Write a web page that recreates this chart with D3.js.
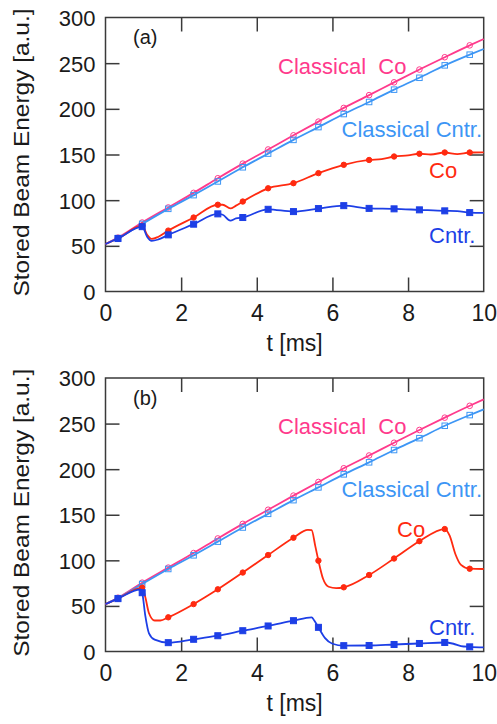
<!DOCTYPE html>
<html><head><meta charset="utf-8">
<script src="https://cdn.jsdelivr.net/npm/d3@7"></script>
<style>
body{margin:0;background:#fff}
text{font-family:"Liberation Sans",Arial,sans-serif;fill:#1a1a1a}
</style>
</head><body><svg id="c" width="497" height="724"></svg>
<script>
// ---------- data ----------
const xTicks = [0, 2, 4, 6, 8, 10];
const yTicks = [0, 50, 100, 150, 200, 250, 300];
const markerTimes = [0.33, 0.97, 1.66, 2.33, 2.97, 3.63, 4.3, 4.97, 5.63, 6.3, 6.97, 7.63, 8.3, 8.97, 9.63];

const classicalCo = [[0,52],[0.33,59],[0.97,75.5],[1.66,92],[2.33,108],[2.97,124],[3.63,140],[4.3,155.5],[4.97,171],[5.63,186],[6.3,201],[6.97,215],[7.63,229],[8.3,243],[8.97,256.5],[9.63,269.5],[10,276.5]];
const classicalCntr = [[0,52],[0.33,58.5],[0.97,74],[1.66,90.5],[2.33,105.5],[2.97,120.5],[3.63,136],[4.3,151],[4.97,166],[5.63,180],[6.3,194.3],[6.97,207.5],[7.63,221],[8.3,234],[8.97,247.6],[9.63,259.3],[10,265.5]];

const coA = [[0,52],[0.33,58],[0.97,72],[1.1,62],[1.22,57.6],[1.4,60],[1.66,66.7],[2.33,81],[2.97,95],[3.1,95],[3.3,91],[3.45,94],[3.63,98.5],[4.3,113],[4.97,118.6],[5.63,129.6],[6.3,138.7],[6.97,144],[7.3,145],[7.63,147.8],[8.0,149],[8.3,150.8],[8.6,150],[8.97,152.2],[9.3,150.5],[9.63,152.2],[10,152.4]];
const cntrA = [[0,52],[0.33,58],[0.97,71],[1.1,60],[1.22,55.4],[1.4,57],[1.66,62],[2.33,73.7],[2.97,85],[3.1,84],[3.3,77.6],[3.45,80],[3.63,81],[4.3,90],[4.97,87.5],[5.63,90.8],[6.3,94],[6.97,91],[7.63,90.5],[8.3,89.4],[8.97,88.3],[9.3,88],[9.63,86.4],[10,86]];

const coB = [[0,52],[0.33,58],[0.97,70],[1.05,60],[1.15,42],[1.3,34],[1.45,34],[1.66,37.5],[2.33,52],[2.97,68.2],[3.63,86.6],[4.3,105.8],[4.97,124.8],[5.35,133.5],[5.45,133],[5.55,115],[5.63,99.6],[5.75,80],[5.9,71],[6.1,69.5],[6.3,70.4],[6.97,83.9],[7.63,102],[8.3,121],[8.97,134.3],[9.1,127],[9.25,107],[9.4,95],[9.63,90.8],[10,90.5]];
const cntrB = [[0,52],[0.33,58],[0.92,68],[0.97,64.5],[1.05,40],[1.15,20],[1.3,13],[1.66,9.7],[2.33,13.4],[2.97,17.3],[3.63,22.8],[4.3,28],[4.97,33.8],[5.45,37.5],[5.52,34],[5.63,26.5],[5.8,15],[6.0,8.5],[6.3,6.4],[6.97,6.6],[7.63,7.7],[8.3,8.8],[8.97,9.9],[9.2,8.5],[9.4,6],[9.63,5.1],[10,4.5]];

const panelLabels = ["(a)", "(b)"];
const seriesLabels = ["Classical  Co", "Classical Cntr.", "Co", "Cntr."];
const xTitle = "t [ms]";
const yTitle = "Stored Beam Energy [a.u.]";

// ---------- styling / layout ----------
const colors = {cCo:"#ff3a8c", cCntr:"#3d96f5", co:"#ff2a10", cntr:"#1d3fe6"};
const svg = d3.select("#c");
const x = d3.scaleLinear().domain([0,10]).range([105.5,483.7]);

const panels = [
  {top:17.5, bottom:291.5, co:coA, cntr:cntrA, label:panelLabels[0],
   labelPos:[[278,74],[341.5,136.7],[429,178],[429,243.3]]},
  {top:378, bottom:651.5, co:coB, cntr:cntrB, label:panelLabels[1],
   labelPos:[[278,434],[341.5,496.7],[397,536.7],[429,635]]}
];

const isMarker = d => markerTimes.some(m => Math.abs(m - d[0]) < 1e-6);
const ff = "'Liberation Sans',Arial,sans-serif";

panels.forEach(p => {
  const y = d3.scaleLinear().domain([0,300]).range([p.bottom, p.top]);
  const g = svg.append("g");
  const line = d3.line().x(d=>x(d[0])).y(d=>y(d[1])).curve(d3.curveMonotoneX);

  // frame
  g.append("rect").attr("x",x(0)).attr("y",y(300)).attr("width",x(10)-x(0)).attr("height",y(0)-y(300))
    .attr("fill","none").attr("stroke","#3a3a3a").attr("stroke-width",1.5);

  // axes via d3 axis (inward ticks)
  const tl = 14;
  const axL = g.append("g").attr("transform",`translate(${x(0)},0)`)
    .call(d3.axisLeft(y).tickValues(yTicks).tickSize(-tl).tickFormat(d3.format("d")));
  const axB = g.append("g").attr("transform",`translate(0,${y(0)})`)
    .call(d3.axisBottom(x).tickValues(xTicks).tickSize(-tl).tickFormat(d3.format("d")));
  const axR = g.append("g").attr("transform",`translate(${x(10)},0)`)
    .call(d3.axisRight(y).tickValues(yTicks).tickSize(-tl).tickFormat(""));
  const axT = g.append("g").attr("transform",`translate(0,${y(300)})`)
    .call(d3.axisTop(x).tickValues(xTicks).tickSize(-tl).tickFormat(""));
  [axL,axB,axR,axT].forEach(a=>{
    a.select(".domain").remove();
    a.selectAll(".tick line").attr("stroke","#3a3a3a").attr("stroke-width",1.5);
  });
  axL.selectAll(".tick").filter(d=>d===0||d===300).select("line").remove();
  axR.selectAll(".tick").filter(d=>d===0||d===300).select("line").remove();
  axB.selectAll(".tick").filter(d=>d===0||d===10).select("line").remove();
  axT.selectAll(".tick").filter(d=>d===0||d===10).select("line").remove();
  axL.selectAll("text").attr("font-size",22).attr("x",-10).attr("dy","0.36em").attr("fill","#1a1a1a")
    .style("font-family",ff);
  axB.selectAll("text").attr("font-size",23).attr("y",13).attr("fill","#1a1a1a")
    .style("font-family",ff);

  // axis titles
  g.append("text").attr("x",(x(0)+x(10))/2).attr("y",p.bottom+59).attr("text-anchor","middle")
    .attr("font-size",23).text(xTitle);
  g.append("text").attr("transform",`translate(28.5,${(p.top+p.bottom)/2 - 2}) rotate(-90)`)
    .attr("text-anchor","middle").attr("font-size",22)
    .attr("textLength",288).attr("lengthAdjust","spacingAndGlyphs").text(yTitle);

  // panel label
  g.append("text").attr("x",133).attr("y",p.top+26.5).attr("font-size",20).text(p.label);

  // series
  const series = [
    {data:classicalCo, color:colors.cCo, shape:"circle", fill:false},
    {data:classicalCntr, color:colors.cCntr, shape:"square", fill:false},
    {data:p.co, color:colors.co, shape:"circle", fill:true},
    {data:p.cntr, color:colors.cntr, shape:"square", fill:true}
  ];
  series.forEach((s,i) => {
    g.append("path").datum(s.data).attr("d",line).attr("fill","none")
      .attr("stroke",s.color).attr("stroke-width",1.8);
    const pts = s.data.filter(isMarker);
    if (s.shape==="circle") {
      g.selectAll(null).data(pts).enter().append("circle")
        .attr("cx",d=>x(d[0])).attr("cy",d=>y(d[1])).attr("r", s.fill?2.7:2.8)
        .attr("fill", s.fill? s.color : "none").attr("stroke", s.color).attr("stroke-width",1);
    } else {
      const sz = s.fill?6:5.5;
      g.selectAll(null).data(pts).enter().append("rect")
        .attr("x",d=>x(d[0])-sz/2).attr("y",d=>y(d[1])-sz/2).attr("width",sz).attr("height",sz)
        .attr("fill", s.fill? s.color : "none").attr("stroke", s.color).attr("stroke-width",1);
    }
    g.append("text").attr("x",p.labelPos[i][0]).attr("y",p.labelPos[i][1])
      .attr("font-size",22).style("fill",s.color)
      .style("white-space","pre").attr("xml:space","preserve").text(seriesLabels[i]);
  });
});
</script>
</body></html>
